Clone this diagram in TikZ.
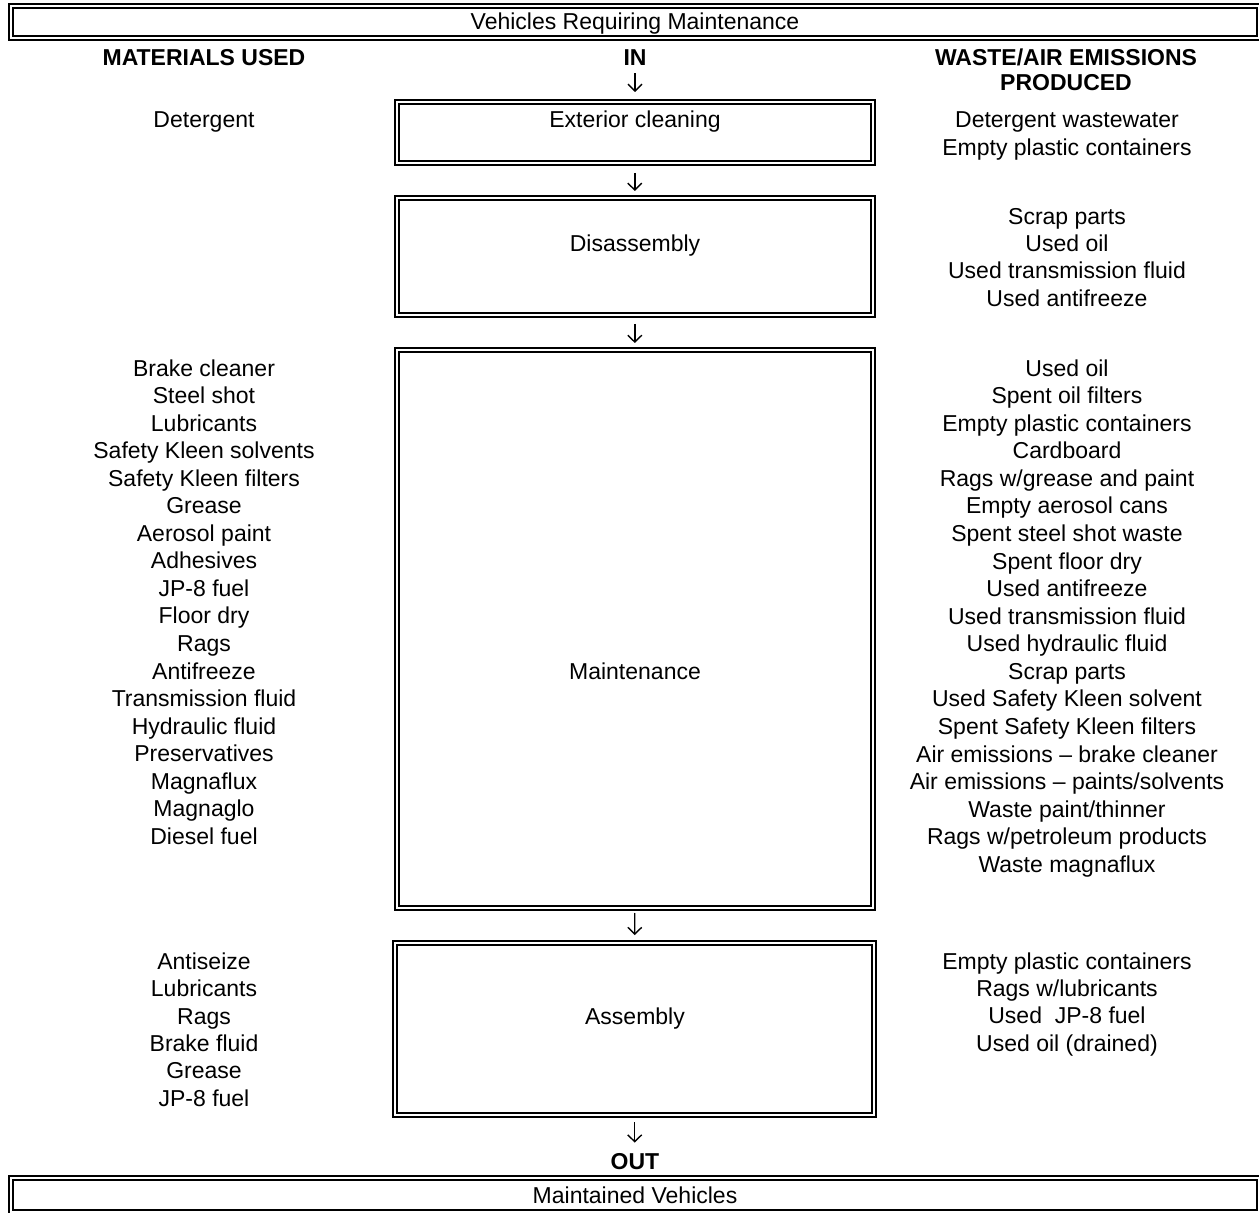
\documentclass[tikz,border=0pt]{standalone}
\usepackage{fontspec}
\setmainfont{Liberation Sans}
\usetikzlibrary{arrows.meta}
\begin{document}
\begin{tikzpicture}[x=0.5pt,y=-0.5pt,
  txt/.style={font=\fontsize{11.5pt}{13.75pt}\selectfont, inner sep=0pt, text height=8.2pt, text depth=0pt, anchor=center},
  hdr/.style={txt, font=\fontsize{11.5pt}{13.75pt}\selectfont\bfseries},
  dbox/.style={draw, double, double distance=1pt, line width=1pt, inner sep=0pt, outer sep=0pt},
  flow/.style={line width=0.7pt, -{Straight Barb[length=3.4pt,width=7pt,line width=0.7pt]}},
]
\useasboundingbox (0,0) rectangle (1259,1213);
\clip (0,0) rectangle (1259,1213);

% banners
\node[dbox, minimum width=623.75pt, minimum height=16.15pt] (top) at (634.75,21.85) {};
\node[txt] (topt) at (635,21) {Vehicles Requiring Maintenance};
\node[dbox, minimum width=623.75pt, minimum height=17pt] (bot) at (634.75,1195) {};
\node[txt] (bott) at (635,1195) {Maintained Vehicles};

% column headings
\node[hdr] (hmat) at (204,57) {MATERIALS USED};
\node[hdr] (hin) at (635,57) {IN};
\node[hdr] (hwaste1) at (1066,57) {WASTE/AIR EMISSIONS};
\node[hdr] (hwaste2) at (1066,82) {PRODUCED};
\node[hdr] (hout) at (635,1161) {OUT};

% process boxes
\node[dbox, minimum width=237.8pt, minimum height=30.5pt] (ext) at (634.8,132.8) {};
\node[dbox, minimum width=237.8pt, minimum height=58.35pt] (dis) at (634.8,256.6) {};
\node[dbox, minimum width=237.8pt, minimum height=278.9pt] (mnt) at (634.8,628.6) {};
\node[dbox, minimum width=239.65pt, minimum height=85.85pt] (asm) at (634.7,1029.2) {};

\node[txt] (extt) at (635,119) {Exterior cleaning};
\node[txt] (dist) at (635,243) {Disassembly};
\node[txt] (mntt) at (635,671) {Maintenance};
\node[txt] (asmt) at (635,1016) {Assembly};

% flow arrows
\draw[flow, shorten <=3.9pt, shorten >=5.15pt] (hin.south) -- (hin.south |- ext.north);
\draw[flow, shorten <=4.85pt, shorten >=3.65pt] (ext.south) -- (dis.north);
\draw[flow, shorten <=4.5pt, shorten >=3.35pt] (dis.south) -- (mnt.north);
\draw[flow, shorten <=2.75pt, shorten >=4.15pt] (mnt.south) -- (asm.north);
\draw[flow, shorten <=3.5pt, shorten >=4.9pt] (asm.south) -- (asm.south |- hout.north);

% materials used
\node[txt] (m1) at (204,119) {Detergent};
\foreach \t [count=\i] in {Brake cleaner, Steel shot, Lubricants, Safety Kleen solvents,
  Safety Kleen filters, Grease, Aerosol paint, Adhesives, JP-8 fuel, Floor dry, Rags,
  Antifreeze, Transmission fluid, Hydraulic fluid, Preservatives, Magnaflux, Magnaglo, Diesel fuel}
  \node[txt] (mm\i) at (204,{368+27.53*(\i-1)}) {\t};
\foreach \t [count=\i] in {Antiseize, Lubricants, Rags, Brake fluid, Grease, JP-8 fuel}
  \node[txt] (ma\i) at (204,{961+27.4*(\i-1)}) {\t};

% waste and air emissions produced
\foreach \t [count=\i] in {Detergent wastewater, Empty plastic containers}
  \node[txt] (we\i) at (1067,{119+28*(\i-1)}) {\t};
\foreach \t [count=\i] in {Scrap parts, Used oil, Used transmission fluid, Used antifreeze}
  \node[txt] (wd\i) at (1067,{216+27.33*(\i-1)}) {\t};
\foreach \t [count=\i] in {Used oil, Spent oil filters, Empty plastic containers, Cardboard,
  Rags w/grease and paint, Empty aerosol cans, Spent steel shot waste, Spent floor dry,
  Used antifreeze, Used transmission fluid, Used hydraulic fluid, Scrap parts,
  Used Safety Kleen solvent, Spent Safety Kleen filters, Air emissions – brake cleaner,
  Air emissions – paints/solvents, Waste paint/thinner, Rags w/petroleum products, Waste magnaflux}
  \node[txt] (wm\i) at (1067,{368+27.56*(\i-1)}) {\t};
\foreach \t [count=\i] in {Empty plastic containers, Rags w/lubricants, Used~ JP-8 fuel, Used oil (drained)}
  \node[txt] (wa\i) at (1067,{961+27.33*(\i-1)}) {\t};
\end{tikzpicture}
\end{document}
